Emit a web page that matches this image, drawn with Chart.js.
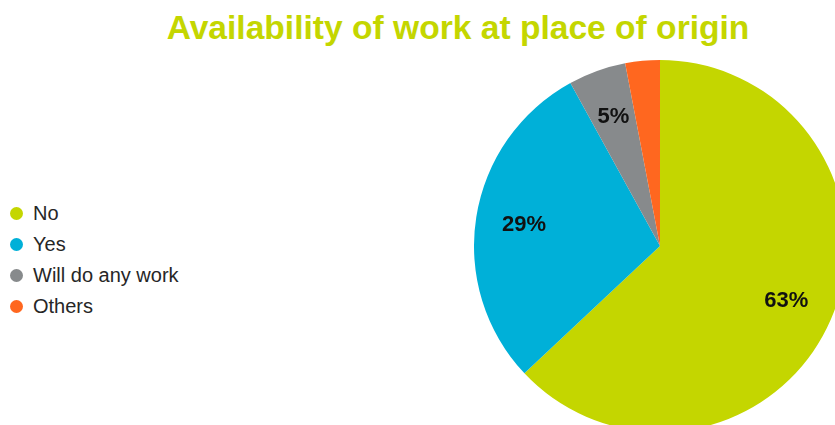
<!DOCTYPE html>
<html lang="en">
<head>
  <meta charset="UTF-8">
  <title>Availability of work at place of origin</title>
  <style>
    html, body {
      margin: 0;
      padding: 0;
      width: 835px;
      height: 425px;
      overflow: hidden;
      background: #ffffff;
      font-family: "Liberation Sans", Arial, sans-serif;
    }
    .title {
      position: absolute;
      left: 0;
      width: 916px;
      top: 10px;
      margin: 0;
      text-align: center;
      font-size: 33.6px;
      line-height: 36px;
      font-weight: bold;
      color: #c4d600;
    }
    .legend {
      position: absolute;
      left: 10px;
      top: 198px;
      margin: 0;
      padding: 0;
      list-style: none;
    }
    .legend li {
      display: flex;
      align-items: center;
      height: 31.1px;
      font-size: 20px;
      color: #262626;
    }
    .legend .dot {
      width: 13px;
      height: 13px;
      border-radius: 50%;
      margin-right: 10px;
    }
    .pie-box {
      position: absolute;
      left: 474px;
      top: 60px;
      width: 372px;
      height: 372px;
    }
  </style>
</head>
<body>
  <h1 class="title">Availability of work at place of origin</h1>
  <ul class="legend" id="legend"></ul>
  <div class="pie-box">
    <canvas id="origin-chart"></canvas>
  </div>

  <script src="https://cdn.jsdelivr.net/npm/chart.js"></script>
  <script>
    // answers, in percent
    var answers = ['No', 'Yes', 'Will do any work', 'Others'];
    var shares = [63, 29, 5, 3];
    var sliceColors = ['#c4d600', '#00b0d8', '#878a8c', '#ff671f'];

    // legend on the left
    var legend = document.getElementById('legend');
    answers.forEach(function(name, i) {
      var li = document.createElement('li');
      var dot = document.createElement('span');
      dot.className = 'dot';
      dot.style.background = sliceColors[i];
      li.appendChild(dot);
      li.appendChild(document.createTextNode(name));
      legend.appendChild(li);
    });

    // percent text inside the bigger slices
    var sliceLabels = {
      id: 'sliceLabels',
      afterDatasetsDraw: function(chart) {
        var ctx = chart.ctx;
        var meta = chart.getDatasetMeta(0);
        ctx.save();
        ctx.font = 'bold 22px "Liberation Sans", Arial, sans-serif';
        ctx.fillStyle = '#111111';
        ctx.textAlign = 'center';
        ctx.textBaseline = 'middle';
        meta.data.forEach(function(arc, i) {
          var v = shares[i];
          if (v < 5) return;
          var p = arc.getProps(['x', 'y', 'startAngle', 'endAngle', 'outerRadius'], true);
          var mid = (p.startAngle + p.endAngle) / 2;
          var r = p.outerRadius * 0.74;
          ctx.fillText(v + '%', p.x + Math.cos(mid) * r, p.y + Math.sin(mid) * r);
        });
        ctx.restore();
      }
    };

    new Chart(document.getElementById('origin-chart'), {
      type: 'pie',
      data: {
        labels: answers,
        datasets: [{
          data: shares,
          backgroundColor: sliceColors,
          borderWidth: 0
        }]
      },
      options: {
        responsive: true,
        maintainAspectRatio: false,
        animation: false,
        layout: { padding: 0 },
        plugins: {
          legend: { display: false },
          title: { display: false },
          tooltip: { enabled: false }
        }
      },
      plugins: [sliceLabels]
    });
  </script>
</body>
</html>
